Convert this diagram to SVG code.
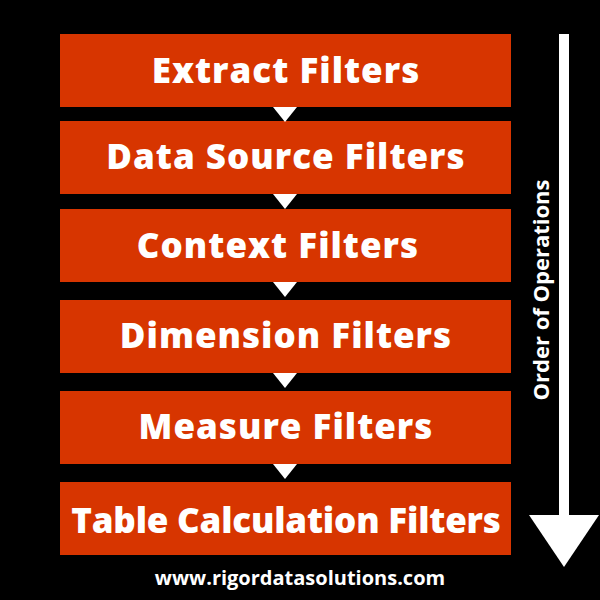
<svg xmlns="http://www.w3.org/2000/svg" width="600" height="600" viewBox="0 0 600 600">
<style>
.box{fill:#D73500;}
.lbl{font-family:"Open Sans","DejaVu Sans",sans-serif;font-weight:800;font-size:35px;letter-spacing:1px;fill:#fff;text-anchor:middle;}
.tri{fill:#fff;}
.side{font-family:"Open Sans","DejaVu Sans",sans-serif;font-weight:700;font-size:22px;fill:#fff;text-anchor:middle;}
.foot{font-family:"Open Sans","DejaVu Sans",sans-serif;font-weight:700;font-size:20px;fill:#fff;text-anchor:middle;}
</style>
<rect width="600" height="600" fill="#000"/>
<g id="n1"><rect class="box" x="60" y="34" width="451" height="73"/><text class="lbl" x="286" y="83">Extract Filters</text></g>
<g id="n2"><rect class="box" x="60" y="121" width="451" height="73"/><text class="lbl" x="286" y="169">Data Source Filters</text></g>
<g id="n3"><rect class="box" x="60" y="209" width="451" height="73"/><text class="lbl" x="278" y="258">Context Filters</text></g>
<g id="n4"><rect class="box" x="60" y="300" width="451" height="73"/><text class="lbl" x="286" y="348">Dimension Filters</text></g>
<g id="n5"><rect class="box" x="60" y="391" width="451" height="73"/><text class="lbl" x="286" y="439">Measure Filters</text></g>
<g id="n6"><rect class="box" x="60" y="482" width="451" height="73"/><text class="lbl" x="286" y="533" style="letter-spacing:-0.2px">Table Calculation Filters</text></g>
<g id="connectors">
<polygon class="tri" points="273,107 297,107 285,122"/>
<polygon class="tri" points="273,194 297,194 285,209"/>
<polygon class="tri" points="273,282 297,282 285,297"/>
<polygon class="tri" points="273,373 297,373 285,388"/>
<polygon class="tri" points="273,464 297,464 285,479"/>
</g>
<g id="order">
<rect x="559" y="34" width="10" height="482" fill="#fff"/>
<polygon points="529,515 599,515 564,567" fill="#fff"/>
<text class="side" transform="translate(549,290) rotate(-90)">Order of Operations</text>
</g>
<text class="foot" x="300" y="585">www.rigordatasolutions.com</text>
</svg>
